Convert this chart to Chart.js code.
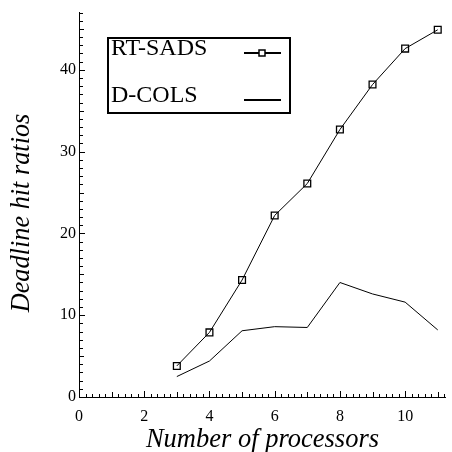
<!DOCTYPE html>
<html>
<head>
<meta charset="utf-8">
<script src="https://cdn.jsdelivr.net/npm/chart.js@4"></script>
<style>
html,body{margin:0;padding:0;background:#fff;}
#wrap{width:452px;height:452px;}
</style>
</head>
<body>
<div id="wrap"><canvas id="c" width="452" height="452"></canvas></div>
<script>
const processors = [3, 4, 5, 6, 7, 8, 9, 10, 11];
const rtSads = [3.8, 7.9, 14.3, 22.2, 26.1, 32.7, 38.2, 42.6, 44.9];
const dCols = [2.5, 4.4, 8.1, 8.6, 8.5, 14.0, 12.6, 11.6, 8.2];
const seriesLabels = ['RT-SADS', 'D-COLS'];
const xTickLabels = [0, 2, 4, 6, 8, 10];
const yTickLabels = [0, 10, 20, 30, 40];
const xTitle = 'Number of processors';
const yTitle = 'Deadline hit ratios';

const SERIF = "'Liberation Serif', 'Times New Roman', serif";

const tickPlugin = {
  id: 'inwardTicks',
  afterDraw(chart) {
    const ctx = chart.ctx;
    const xs = chart.scales.x, ys = chart.scales.y;
    const area = chart.chartArea;
    ctx.save();
    ctx.strokeStyle = '#000';
    ctx.lineWidth = 1;
    ctx.beginPath();
    for (let i = 0; i <= Math.round(xs.max * 5); i++) {
      const v = i / 5;
      const px = Math.round(xs.getPixelForValue(v)) + 0.5;
      let len = 3;
      if (i % 5 === 0) len = (i % 10 === 0) ? 6 : 5;
      ctx.moveTo(px, area.bottom);
      ctx.lineTo(px, area.bottom - len);
    }
    for (let v = 0; v <= Math.floor(ys.max); v++) {
      const py = Math.round(ys.getPixelForValue(v)) + 0.5;
      let len = 4;
      if (v % 10 === 0) len = 6; else if (v % 5 === 0) len = 5;
      ctx.moveTo(area.left, py);
      ctx.lineTo(area.left + len, py);
    }
    ctx.stroke();

    ctx.fillStyle = '#000';
    ctx.font = "italic 26.3px " + SERIF;
    ctx.textAlign = 'center';
    ctx.textBaseline = 'middle';
    ctx.translate(22, 213);
    ctx.rotate(-Math.PI / 2);
    ctx.fillText(yTitle, 0, 0);
    ctx.restore();
  }
};

const legendPlugin = {
  id: 'boxLegend',
  afterDraw(chart) {
    const ctx = chart.ctx;
    const box = {l: 108, t: 38, r: 290, b: 113};
    ctx.save();
    ctx.fillStyle = '#fff';
    ctx.fillRect(box.l, box.t, box.r - box.l, box.b - box.t);
    ctx.strokeStyle = '#000';
    ctx.lineWidth = 2;
    ctx.strokeRect(box.l, box.t, box.r - box.l, box.b - box.t);
    const rows = [55, 102];
    const lineY = [53, 100];
    ctx.font = "24px " + SERIF;
    ctx.fillStyle = '#000';
    ctx.textAlign = 'left';
    ctx.textBaseline = 'alphabetic';
    chart.data.datasets.forEach((ds, i) => {
      ctx.fillText(ds.label, 111, rows[i]);
      ctx.beginPath();
      ctx.lineWidth = 2;
      ctx.moveTo(244, lineY[i]);
      ctx.lineTo(281, lineY[i]);
      ctx.stroke();
      if (ds.pointRadius > 0) {
        ctx.lineWidth = 1.5;
        ctx.fillStyle = '#fff';
        ctx.fillRect(259, lineY[i] - 3, 6, 6);
        ctx.strokeRect(259, lineY[i] - 3, 6, 6);
        ctx.fillStyle = '#000';
      }
    });
    ctx.restore();
  }
};

new Chart(document.getElementById('c'), {
  type: 'line',
  data: {
    datasets: [
      {
        label: seriesLabels[0],
        data: processors.map((p, i) => ({x: p, y: rtSads[i]})),
        borderColor: '#000',
        borderWidth: 1,
        pointStyle: 'rect',
        pointRadius: 4.8,
        pointBorderWidth: 1.3,
        pointBorderColor: '#000',
        pointBackgroundColor: 'rgba(0,0,0,0)',
        tension: 0,
        fill: false
      },
      {
        label: seriesLabels[1],
        data: processors.map((p, i) => ({x: p, y: dCols[i]})),
        borderColor: '#000',
        borderWidth: 1,
        pointRadius: 0,
        tension: 0,
        fill: false
      }
    ]
  },
  options: {
    responsive: false,
    animation: false,
    devicePixelRatio: 1,
    layout: {padding: {top: 10, right: 1, left: 0, bottom: 0}},
    plugins: {legend: {display: false}, tooltip: {enabled: false}},
    scales: {
      x: {
        type: 'linear',
        min: 0,
        max: 11.25,
        afterFit(s) { s.height = 55; },
        grid: {display: false, drawTicks: false},
        border: {display: true, color: '#000', width: 1},
        ticks: {
          stepSize: 2,
          includeBounds: false,
          padding: 10,
          color: '#000',
          font: {family: SERIF, size: 16},
          maxRotation: 0,
          callback: (v) => xTickLabels.includes(v) ? String(v) : null
        },
        title: {
          display: true,
          text: xTitle,
          color: '#000',
          font: {family: SERIF, size: 26.5, style: 'italic'},
          padding: {top: 0, bottom: -4}
        }
      },
      y: {
        type: 'linear',
        min: 0,
        max: 47,
        afterFit(s) { s.width = 79; },
        grid: {display: false, drawTicks: false},
        border: {display: true, color: '#000', width: 1},
        ticks: {
          stepSize: 10,
          includeBounds: false,
          padding: 3,
          color: '#000',
          font: {family: SERIF, size: 16},
          callback: (v) => yTickLabels.includes(v) ? String(v) : null
        }
      }
    }
  },
  plugins: [tickPlugin, legendPlugin]
});
</script>
</body>
</html>
